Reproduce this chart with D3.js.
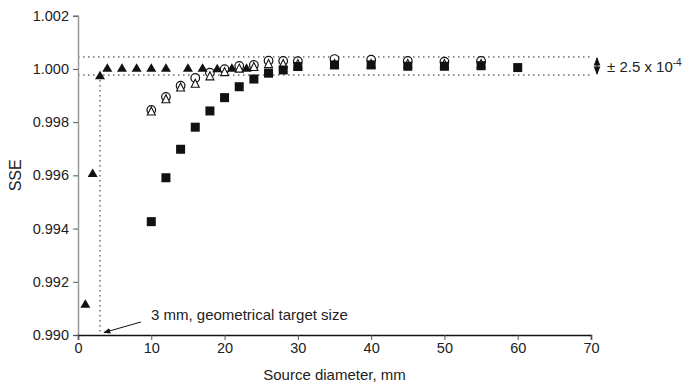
<!DOCTYPE html>
<html>
<head>
<meta charset="utf-8">
<script src="https://cdn.jsdelivr.net/npm/d3@7"></script>
<style>
body { margin: 0; background: #fff; }
text { font-family: "Liberation Sans", Arial, sans-serif; fill: #222; }
</style>
</head>
<body>
<svg id="chart" width="689" height="389"></svg>
<script>
// filled triangles
var triFillX = [1, 2, 3, 4, 6, 8, 10, 12, 15, 17, 19, 21, 23, 30];
var triFillY = [0.99118, 0.9961, 0.99977, 1.00005, 1.00005, 1.00005, 1.00005, 1.00005, 1.00005, 1.00005, 1.00003, 1.00005, 1.00005, 1.0001];
// open circles
var circX = [10, 12, 14, 16, 18, 20, 22, 24, 26, 28, 30, 35, 40, 45, 50, 55];
var circY = [0.99846, 0.99895, 0.99937, 0.99966, 0.99986, 0.99999, 1.00011, 1.00015, 1.00031, 1.0003, 1.00029, 1.00037, 1.00035, 1.0003, 1.00027, 1.0003];
// open triangles
var triOpenX = [10, 12, 14, 16, 18, 20, 22, 24, 26, 28, 30, 35, 40, 45, 50, 55];
var triOpenY = [0.99842, 0.99888, 0.99932, 0.99946, 0.99974, 0.9999, 1.00003, 1.00009, 1.0002, 1.0002, 1.0002, 1.0002, 1.0002, 1.0002, 1.0002, 1.0002];
// filled squares
var sqX = [10, 12, 14, 16, 18, 20, 22, 24, 26, 28, 30, 35, 40, 45, 50, 55, 60];
var sqY = [0.99426, 0.99591, 0.99698, 0.99781, 0.99842, 0.99892, 0.99933, 0.99962, 0.99984, 0.99996, 1.00009, 1.00015, 1.00015, 1.0001, 1.0001, 1.00012, 1.00005];

var xTicks = [0, 10, 20, 30, 40, 50, 60, 70];
var yTicks = [0.990, 0.992, 0.994, 0.996, 0.998, 1.000, 1.002];
var bandHi = 1.00045, bandLo = 0.99977, targetSize = 3;

var svg = d3.select("#chart");
var x = d3.scaleLinear().domain([0, 70]).range([78, 591]);
var y = d3.scaleLinear().domain([0.990, 1.002]).range([335, 15.7]);

function pts(xs, ys) { return xs.map(function(v, i) { return {x: v, y: ys[i]}; }); }

var defs = svg.append("defs");
defs.append("marker").attr("id", "ah").attr("viewBox", "0 0 10 10")
    .attr("refX", 9).attr("refY", 5).attr("markerWidth", 7).attr("markerHeight", 7)
    .attr("orient", "auto-start-reverse")
    .append("path").attr("d", "M0,1 L10,5 L0,9 Z").attr("fill", "#111");

// dotted guide lines
var dot = "1.5,3.5";
svg.append("line").attr("x1", x(0)).attr("x2", 593).attr("y1", y(bandHi)).attr("y2", y(bandHi))
    .attr("stroke", "#222").attr("stroke-dasharray", dot);
svg.append("line").attr("x1", x(0)).attr("x2", 593).attr("y1", y(bandLo)).attr("y2", y(bandLo))
    .attr("stroke", "#222").attr("stroke-dasharray", dot);
svg.append("line").attr("x1", x(targetSize)).attr("x2", x(targetSize)).attr("y1", y(bandLo)).attr("y2", y(0.990))
    .attr("stroke", "#222").attr("stroke-dasharray", dot);

// axes
var yAxis = svg.append("g").attr("transform", "translate(" + x(0) + ",0)")
    .call(d3.axisLeft(y).tickValues(yTicks).tickFormat(d3.format(".3f")).tickSize(5).tickPadding(4));
yAxis.select(".domain").attr("stroke", "#999").attr("stroke-width", 1.5);
yAxis.selectAll(".tick line").attr("stroke", "#555");
yAxis.selectAll("text").attr("font-size", 14.5).attr("fill", "#222");

var xAxis = svg.append("g").attr("transform", "translate(0," + y(0.990) + ")")
    .call(d3.axisBottom(x).tickValues(xTicks).tickSize(5).tickPadding(3));
xAxis.select(".domain").attr("stroke", "#111").attr("stroke-width", 1.5);
xAxis.selectAll(".tick line").attr("stroke", "#555");
xAxis.selectAll("text").attr("font-size", 14.5).attr("fill", "#222");

svg.append("text").attr("transform", "translate(21," + y(0.996) + ") rotate(-90)")
    .attr("text-anchor", "middle").attr("font-size", 16).text("SSE");
svg.append("text").attr("x", x(35)).attr("y", 380).attr("text-anchor", "middle")
    .attr("font-size", 15).text("Source diameter, mm");

// markers
function triPath(w, h) { return "M0," + (-h / 2) + "L" + (w / 2) + "," + (h / 2) + "L" + (-w / 2) + "," + (h / 2) + "Z"; }

svg.append("g").selectAll("circle").data(pts(circX, circY)).enter().append("circle")
    .attr("cx", function(d) { return x(d.x); }).attr("cy", function(d) { return y(d.y); })
    .attr("r", 4.3).attr("fill", "#fff").attr("stroke", "#111").attr("stroke-width", 1.2);

svg.append("g").selectAll("path").data(pts(triOpenX, triOpenY)).enter().append("path")
    .attr("transform", function(d) { return "translate(" + x(d.x) + "," + y(d.y) + ")"; })
    .attr("d", triPath(8, 8)).attr("fill", "#fff").attr("stroke", "#111").attr("stroke-width", 1.1);

svg.append("g").selectAll("rect").data(pts(sqX, sqY)).enter().append("rect")
    .attr("x", function(d) { return x(d.x) - 4.5; }).attr("y", function(d) { return y(d.y) - 4.5; })
    .attr("width", 9).attr("height", 9).attr("fill", "#111");

svg.append("g").selectAll("path").data(pts(triFillX, triFillY)).enter().append("path")
    .attr("transform", function(d) { return "translate(" + x(d.x) + "," + y(d.y) + ")"; })
    .attr("d", triPath(10, 8.5)).attr("fill", "#111");

// +/- band annotation
svg.append("line").attr("x1", 597).attr("x2", 597).attr("y1", y(bandHi) + 1).attr("y2", y(bandLo) - 1)
    .attr("stroke", "#111").attr("stroke-width", 1.2)
    .attr("marker-start", "url(#ah)").attr("marker-end", "url(#ah)");
var pm = svg.append("text").attr("x", 607).attr("y", 72).attr("font-size", 15);
pm.append("tspan").text("\u00b1 2.5 x 10");
pm.append("tspan").attr("dy", -6).attr("font-size", 10).text("-4");

// target size annotation
svg.append("line").attr("x1", 141).attr("y1", 322).attr("x2", 104).attr("y2", 332.5)
    .attr("stroke", "#111").attr("stroke-width", 1).attr("marker-end", "url(#ah)");
svg.append("text").attr("x", 151).attr("y", 320).attr("font-size", 15).text("3 mm, geometrical target size");
</script>
</body>
</html>
